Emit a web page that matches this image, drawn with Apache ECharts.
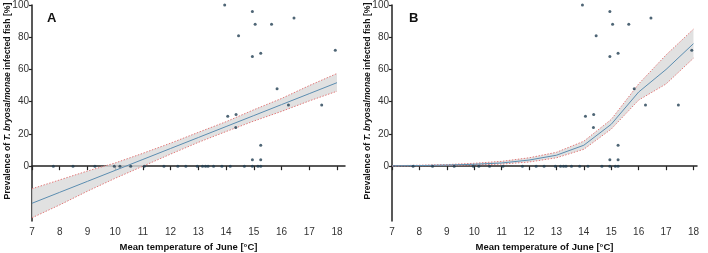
<!DOCTYPE html>
<html>
<head>
<meta charset="utf-8">
<script src="https://cdn.jsdelivr.net/npm/echarts@6/dist/echarts.min.js"></script>
<style>
  html, body { margin: 0; padding: 0; background: #fff; }
  #chart { width: 708px; height: 253px; }
</style>
</head>
<body>
<div id="chart"></div>
<script>
// observations (same in both panels)
var tempJune = [7.77, 8.48, 9.27, 9.97, 10.17, 10.56, 11.05, 11.76, 12.26, 12.55, 12.96, 13.15, 13.26, 13.35, 13.55, 13.85, 14.15, 14.66, 14.95, 15.15, 15.25,
  14.95, 15.25, 15.25, 14.35, 14.06, 14.36, 16.25, 17.45, 15.84, 14.95, 15.25, 17.94, 14.45, 15.05, 15.64, 16.45, 14.95, 13.95]
var prevalence = [0, 0, 0, 0, 0, 0, 0, 0, 0, 0, 0, 0, 0, 0, 0, 0, 0, 0, 0, 0, 0,
  4, 4, 13, 24, 31, 32, 38, 38, 48, 68, 70, 72, 81, 88, 88, 92, 96, 100]

// fitted curves
var fitX = [7, 8, 9, 10, 11, 12, 13, 14, 15, 16, 17, 18]
var fitA = [-23, -16.2, -9.4, -2.6, 4.2, 11, 17.8, 24.6, 31.4, 38.2, 45, 51.8]
var upperA = [-14, -8.5, -3, 2, 8, 14.3, 21, 27.6, 35, 42, 50, 57.5]
var lowerA = [-32, -24, -15.5, -7.5, 0, 7.5, 14.8, 21.5, 28, 34, 40.5, 46.5]
var fitB = [0.2, 0.4, 0.7, 1.2, 2, 3.8, 6.8, 13, 26, 46, 60, 76]
var upperB = [0.3, 0.6, 1, 1.8, 3, 5.2, 8.6, 15.5, 29, 51, 69, 85]
var lowerB = [0.1, 0.3, 0.5, 0.8, 1.3, 2.6, 5.2, 10.5, 23, 41, 51, 67]

var xTicks = [7, 8, 9, 10, 11, 12, 13, 14, 15, 16, 17, 18]
var yTicks = [0, 20, 40, 60, 80, 100]

var chart = echarts.init(document.getElementById('chart'))

function pairs(xs, ys) {
  return xs.map(function (x, i) { return [x, ys[i]] })
}

function xAxis(idx, max) {
  return {
    type: 'value', gridIndex: idx, min: 7, max: max,
    name: 'Mean temperature of June [°C]', nameLocation: 'middle', nameGap: 21,
    nameTextStyle: { fontFamily: 'Liberation Sans', fontWeight: 'bold', fontSize: 9.5, color: '#111' },
    axisLine: { lineStyle: { color: '#222', width: 1.5 } },
    axisTick: { length: 4, lineStyle: { color: '#222', width: 1.2 }, customValues: xTicks },
    axisLabel: { fontFamily: 'Liberation Sans', fontSize: 10, color: '#333', margin: 6, customValues: xTicks },
    splitLine: { show: false }
  }
}

function yAxis(idx) {
  return {
    type: 'value', gridIndex: idx, min: -34, max: 100,
    name: '{n|Prevalence of }{i|T. bryosalmonae}{n| infected fish [%]}',
    nameLocation: 'middle', nameGap: 20, nameMoveOverlap: false,
    nameTextStyle: {
      padding: [0, 0, 0, 24],
      rich: {
        n: { fontFamily: 'Liberation Sans', fontWeight: 'bold', fontSize: 8.7, color: '#111' },
        i: { fontFamily: 'Liberation Sans', fontWeight: 'bold', fontStyle: 'italic', fontSize: 8.7, color: '#111' }
      }
    },
    axisLine: { show: true, lineStyle: { color: '#222', width: 1.5 } },
    axisTick: { show: true, length: 3, lineStyle: { color: '#222', width: 1.2 }, customValues: yTicks },
    axisLabel: { fontFamily: 'Liberation Sans', fontSize: 10, color: '#333', margin: 3, customValues: yTicks },
    splitLine: { show: false }
  }
}

function band(idx, upper, lower) {
  return {
    type: 'custom', xAxisIndex: idx, yAxisIndex: idx, silent: true, z: 1,
    data: [[0]],
    renderItem: function (params, api) {
      var pts = []
      fitX.forEach(function (x, i) { pts.push(api.coord([x, upper[i]])) })
      for (var i = fitX.length - 1; i >= 0; i--) pts.push(api.coord([fitX[i], lower[i]]))
      return { type: 'polygon', shape: { points: pts }, style: { fill: '#d9d9d9', opacity: 0.8 } }
    }
  }
}

function edge(idx, ys) {
  return {
    type: 'line', xAxisIndex: idx, yAxisIndex: idx, data: pairs(fitX, ys), symbol: 'none', z: 2,
    lineStyle: { color: '#e27a7a', width: 1, type: [1.5, 1.5] }, silent: true
  }
}

function fit(idx, ys) {
  return {
    type: 'line', xAxisIndex: idx, yAxisIndex: idx, data: pairs(fitX, ys), symbol: 'none', z: 3,
    lineStyle: { color: '#5b8db0', width: 1 }, silent: true
  }
}

function dots(idx) {
  return {
    type: 'scatter', xAxisIndex: idx, yAxisIndex: idx, data: pairs(tempJune, prevalence),
    symbolSize: 3, z: 4, itemStyle: { color: '#223f52' }
  }
}

chart.setOption({
  animation: false,
  textStyle: { fontFamily: 'Liberation Sans' },
  grid: [
    { left: 32, top: 5, width: 313, height: 216, outerBoundsMode: 'none' },
    { left: 392, top: 5, width: 305, height: 216, outerBoundsMode: 'none' }
  ],
  xAxis: [xAxis(0, 18.29), xAxis(1, 18.13)],
  yAxis: [yAxis(0), yAxis(1)],
  graphic: [
    { type: 'text', left: 47, top: 12, style: { text: 'A', font: 'bold 13px "Liberation Sans"', fill: '#111' } },
    { type: 'text', left: 409, top: 12, style: { text: 'B', font: 'bold 13px "Liberation Sans"', fill: '#111' } }
  ],
  series: [
    band(0, upperA, lowerA), edge(0, upperA), edge(0, lowerA), fit(0, fitA), dots(0),
    band(1, upperB, lowerB), edge(1, upperB), edge(1, lowerB), fit(1, fitB), dots(1)
  ]
})
</script>
</body>
</html>
